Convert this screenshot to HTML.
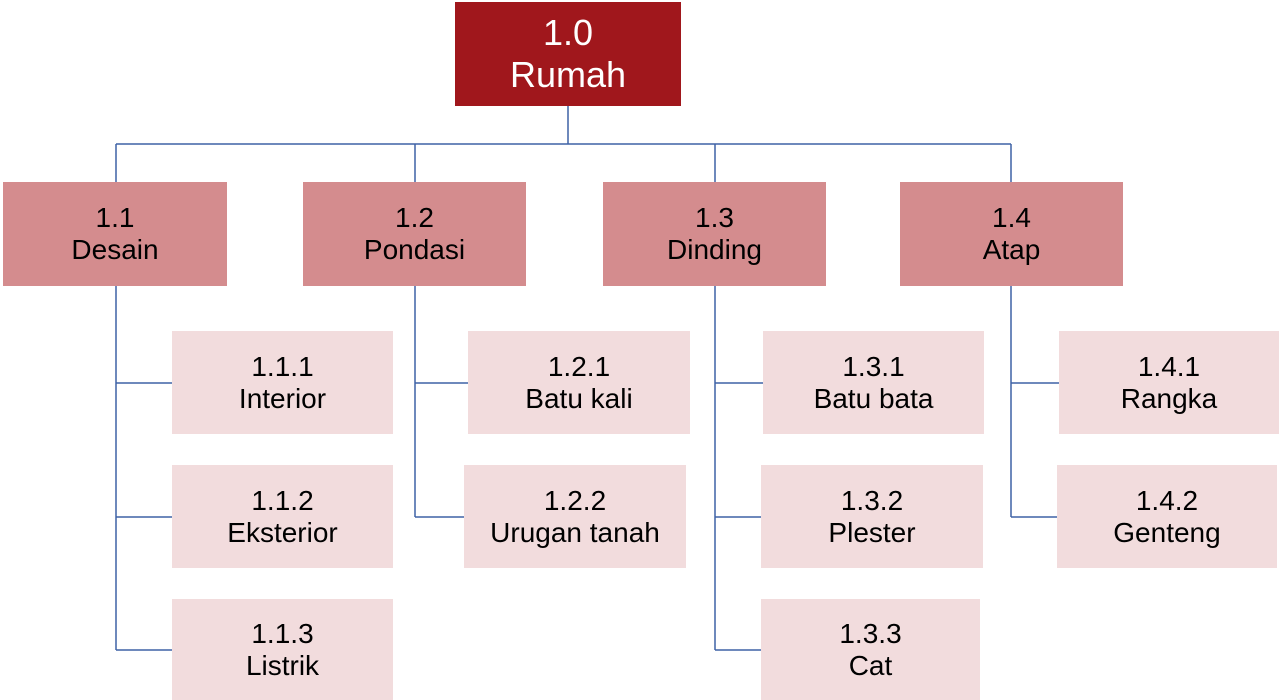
<!DOCTYPE html>
<html><head><style>
body{margin:0;width:1279px;height:700px;background:#fff;position:relative;overflow:hidden;font-family:"Liberation Sans",sans-serif}
.b{position:absolute;display:flex;flex-direction:column;justify-content:center;align-items:center;text-align:center;color:#000;font-size:28px;line-height:32px;white-space:nowrap}
.r{background:#a0171c;color:#fff;font-size:36px;line-height:42px}
.l1{background:#d48c8e}
.l2{background:#f2dcdd}
svg{position:absolute;left:0;top:0}
</style></head><body>
<svg width="1279" height="700"><g stroke="#3e62a6" stroke-width="1.5" fill="none">
<path d="M568 106V144M116 144H1011M116 144V182M415 144V182M715 144V182M1011 144V182"/>
<path d="M116 286V650M116 383H172M116 517H172M116 650H172"/>
<path d="M415 286V517M415 383H468M415 517H464"/>
<path d="M715 286V650M715 383H763M715 517H761M715 650H761"/>
<path d="M1011 286V517M1011 383H1059M1011 517H1057"/>
</g></svg>
<div class="b r" style="left:455px;top:2px;width:226px;height:104px">1.0<br>Rumah</div>
<div class="b l1" style="left:3px;top:182px;width:224px;height:104px">1.1<br>Desain</div>
<div class="b l1" style="left:303px;top:182px;width:223px;height:104px">1.2<br>Pondasi</div>
<div class="b l1" style="left:603px;top:182px;width:223px;height:104px">1.3<br>Dinding</div>
<div class="b l1" style="left:900px;top:182px;width:223px;height:104px">1.4<br>Atap</div>
<div class="b l2" style="left:172px;top:331px;width:221px;height:103px">1.1.1<br>Interior</div>
<div class="b l2" style="left:172px;top:465px;width:221px;height:103px">1.1.2<br>Eksterior</div>
<div class="b l2" style="left:172px;top:599px;width:221px;height:101px">1.1.3<br>Listrik</div>
<div class="b l2" style="left:468px;top:331px;width:222px;height:103px">1.2.1<br>Batu kali</div>
<div class="b l2" style="left:464px;top:465px;width:222px;height:103px">1.2.2<br>Urugan tanah</div>
<div class="b l2" style="left:763px;top:331px;width:221px;height:103px">1.3.1<br>Batu bata</div>
<div class="b l2" style="left:761px;top:465px;width:222px;height:103px">1.3.2<br>Plester</div>
<div class="b l2" style="left:761px;top:599px;width:219px;height:101px">1.3.3<br>Cat</div>
<div class="b l2" style="left:1059px;top:331px;width:220px;height:103px">1.4.1<br>Rangka</div>
<div class="b l2" style="left:1057px;top:465px;width:220px;height:103px">1.4.2<br>Genteng</div>
</body></html>
